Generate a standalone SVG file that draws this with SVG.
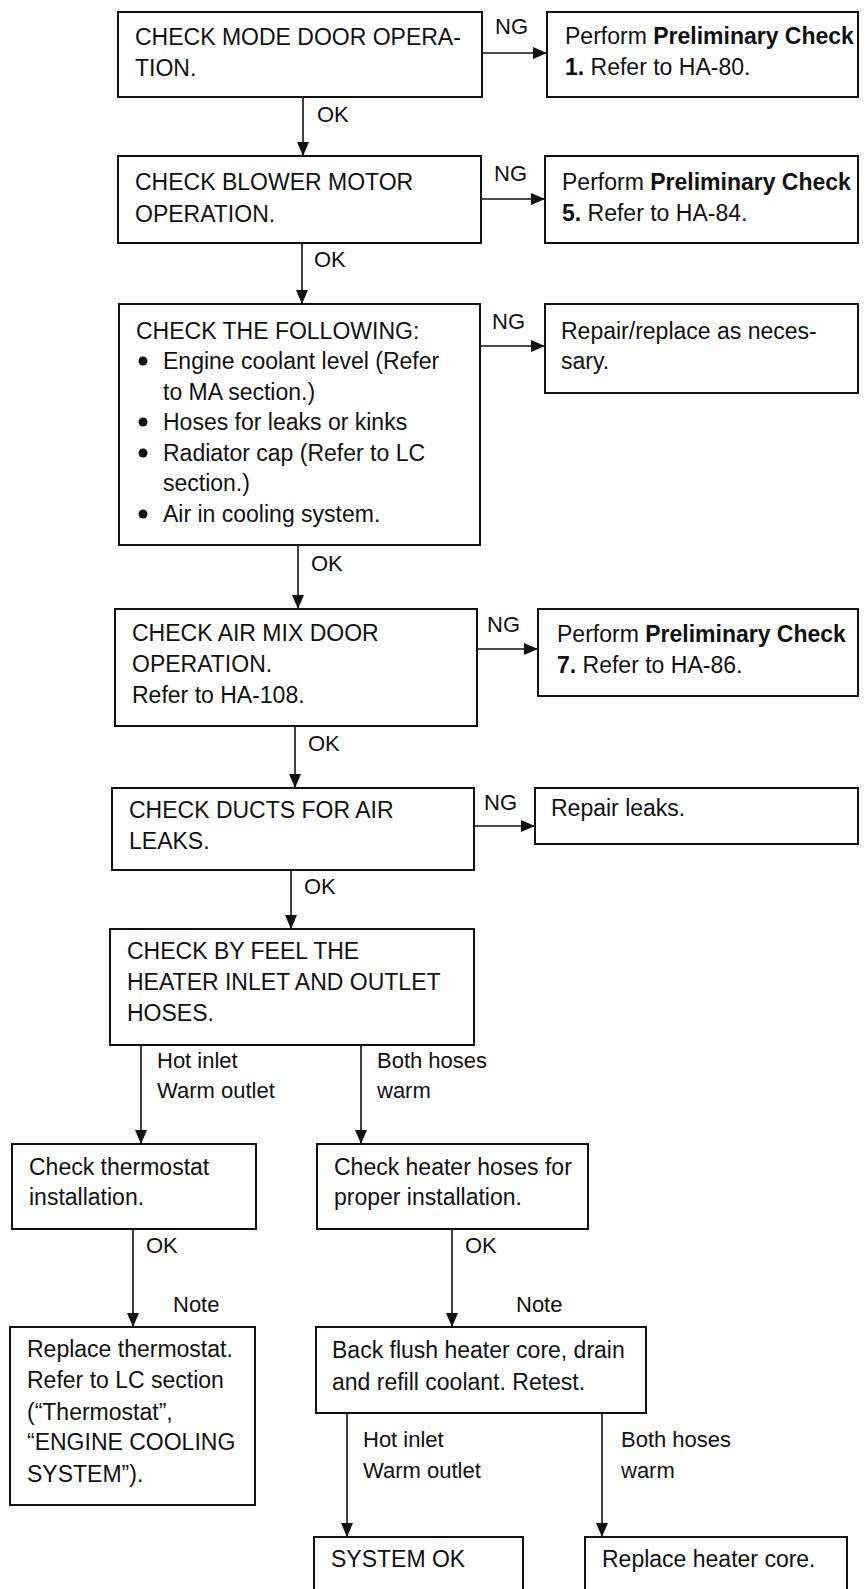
<svg xmlns="http://www.w3.org/2000/svg" width="868" height="1589" viewBox="0 0 868 1589">
<defs>
<marker id="ah" markerUnits="userSpaceOnUse" markerWidth="14" markerHeight="12" refX="14" refY="6" orient="auto"><path d="M0,0 L14,6 L0,12 z" fill="#111"/></marker>
<style>
.box{fill:#fff;stroke:#111;stroke-width:2}
.t{font-family:"Liberation Sans",Arial,sans-serif;font-size:23px;fill:#111}
.l{font-family:"Liberation Sans",Arial,sans-serif;font-size:22px;fill:#111}
.b{font-weight:bold}
.c line{stroke:#111;stroke-width:1.6;marker-end:url(#ah)}
</style>
</defs>
<rect width="868" height="1589" fill="#fff"/>
<g class="c" id="connectors">
<line x1="482" y1="53" x2="547" y2="53"/>
<line x1="303" y1="97" x2="303" y2="156"/>
<line x1="481" y1="199" x2="545" y2="199"/>
<line x1="302" y1="243" x2="302" y2="304"/>
<line x1="480" y1="346" x2="545" y2="346"/>
<line x1="298" y1="545" x2="298" y2="609"/>
<line x1="477" y1="649" x2="538" y2="649"/>
<line x1="295" y1="726" x2="295" y2="788"/>
<line x1="474" y1="826" x2="535" y2="826"/>
<line x1="291" y1="870" x2="291" y2="929"/>
<line x1="141" y1="1045" x2="141" y2="1144"/>
<line x1="361" y1="1045" x2="361" y2="1144"/>
<line x1="133" y1="1229" x2="133" y2="1327"/>
<line x1="452" y1="1229" x2="452" y2="1327"/>
<line x1="347" y1="1413" x2="347" y2="1537"/>
<line x1="602" y1="1413" x2="602" y2="1537"/>
</g>
<g id="labels">
<text class="l" x="495" y="34">NG</text>
<text class="l" x="317" y="122">OK</text>
<text class="l" x="494" y="181">NG</text>
<text class="l" x="314" y="267">OK</text>
<text class="l" x="492" y="329">NG</text>
<text class="l" x="311" y="571">OK</text>
<text class="l" x="487" y="632">NG</text>
<text class="l" x="308" y="751">OK</text>
<text class="l" x="484" y="810">NG</text>
<text class="l" x="304" y="894">OK</text>
<text class="l" x="157" y="1068">Hot inlet</text>
<text class="l" x="157" y="1098">Warm outlet</text>
<text class="l" x="377" y="1068">Both hoses</text>
<text class="l" x="377" y="1098">warm</text>
<text class="l" x="146" y="1253">OK</text>
<text class="l" x="173" y="1312">Note</text>
<text class="l" x="465" y="1253">OK</text>
<text class="l" x="516" y="1312">Note</text>
<text class="l" x="363" y="1447">Hot inlet</text>
<text class="l" x="363" y="1478">Warm outlet</text>
<text class="l" x="621" y="1447">Both hoses</text>
<text class="l" x="621" y="1478">warm</text>
</g>
<g id="n1"><rect class="box" x="118" y="12" width="364" height="85"/>
<text class="t" x="135" y="45">CHECK MODE DOOR OPERA-</text><text class="t" x="135" y="76">TION.</text></g>
<g id="n2"><rect class="box" x="547" y="12" width="311" height="85"/>
<text class="t" x="565" y="44">Perform <tspan class="b">Preliminary Check</tspan></text><text class="t" x="565" y="75"><tspan class="b">1.</tspan> Refer to HA-80.</text></g>
<g id="n3"><rect class="box" x="118" y="156" width="363" height="87"/>
<text class="t" x="135" y="190">CHECK BLOWER MOTOR</text><text class="t" x="135" y="222">OPERATION.</text></g>
<g id="n4"><rect class="box" x="545" y="156" width="313" height="87"/>
<text class="t" x="562" y="190">Perform <tspan class="b">Preliminary Check</tspan></text><text class="t" x="562" y="221"><tspan class="b">5.</tspan> Refer to HA-84.</text></g>
<g id="n5"><rect class="box" x="119" y="304" width="361" height="241"/>
<text class="t" x="136" y="339">CHECK THE FOLLOWING:</text>
<circle cx="143" cy="361" r="4.5" fill="#111"/><text class="t" x="163" y="369">Engine coolant level (Refer</text>
<text class="t" x="163" y="400">to MA section.)</text>
<circle cx="143" cy="422" r="4.5" fill="#111"/><text class="t" x="163" y="430">Hoses for leaks or kinks</text>
<circle cx="143" cy="453" r="4.5" fill="#111"/><text class="t" x="163" y="461">Radiator cap (Refer to LC</text>
<text class="t" x="163" y="491">section.)</text>
<circle cx="143" cy="514" r="4.5" fill="#111"/><text class="t" x="163" y="522">Air in cooling system.</text></g>
<g id="n6"><rect class="box" x="545" y="304" width="313" height="89"/>
<text class="t" x="561" y="339">Repair/replace as neces-</text><text class="t" x="561" y="369">sary.</text></g>
<g id="n7"><rect class="box" x="115" y="609" width="362" height="117"/>
<text class="t" x="132" y="641">CHECK AIR MIX DOOR</text><text class="t" x="132" y="672">OPERATION.</text><text class="t" x="132" y="703">Refer to HA-108.</text></g>
<g id="n8"><rect class="box" x="538" y="609" width="320" height="87"/>
<text class="t" x="557" y="642">Perform <tspan class="b">Preliminary Check</tspan></text><text class="t" x="557" y="673"><tspan class="b">7.</tspan> Refer to HA-86.</text></g>
<g id="n9"><rect class="box" x="112" y="788" width="362" height="82"/>
<text class="t" x="129" y="818">CHECK DUCTS FOR AIR</text><text class="t" x="129" y="849">LEAKS.</text></g>
<g id="n10"><rect class="box" x="535" y="788" width="323" height="56"/>
<text class="t" x="551" y="816">Repair leaks.</text></g>
<g id="n11"><rect class="box" x="110" y="929" width="364" height="116"/>
<text class="t" x="127" y="959">CHECK BY FEEL THE</text><text class="t" x="127" y="990">HEATER INLET AND OUTLET</text><text class="t" x="127" y="1021">HOSES.</text></g>
<g id="n12"><rect class="box" x="12" y="1144" width="244" height="85"/>
<text class="t" x="29" y="1175">Check thermostat</text><text class="t" x="29" y="1205">installation.</text></g>
<g id="n13"><rect class="box" x="317" y="1144" width="271" height="85"/>
<text class="t" x="334" y="1175">Check heater hoses for</text><text class="t" x="334" y="1205">proper installation.</text></g>
<g id="n14"><rect class="box" x="10" y="1327" width="245" height="178"/>
<text class="t" x="27" y="1357">Replace thermostat.</text><text class="t" x="27" y="1388">Refer to LC section</text><text class="t" x="27" y="1420">(“Thermostat”,</text><text class="t" x="27" y="1450">“ENGINE COOLING</text><text class="t" x="27" y="1482">SYSTEM”).</text></g>
<g id="n15"><rect class="box" x="316" y="1327" width="330" height="86"/>
<text class="t" x="332" y="1358">Back flush heater core, drain</text><text class="t" x="332" y="1390">and refill coolant. Retest.</text></g>
<g id="n16"><rect class="box" x="314" y="1537" width="209" height="70"/>
<text class="t" x="331" y="1567">SYSTEM OK</text></g>
<g id="n17"><rect class="box" x="585" y="1537" width="262" height="70"/>
<text class="t" x="602" y="1567">Replace heater core.</text></g>
</svg>
